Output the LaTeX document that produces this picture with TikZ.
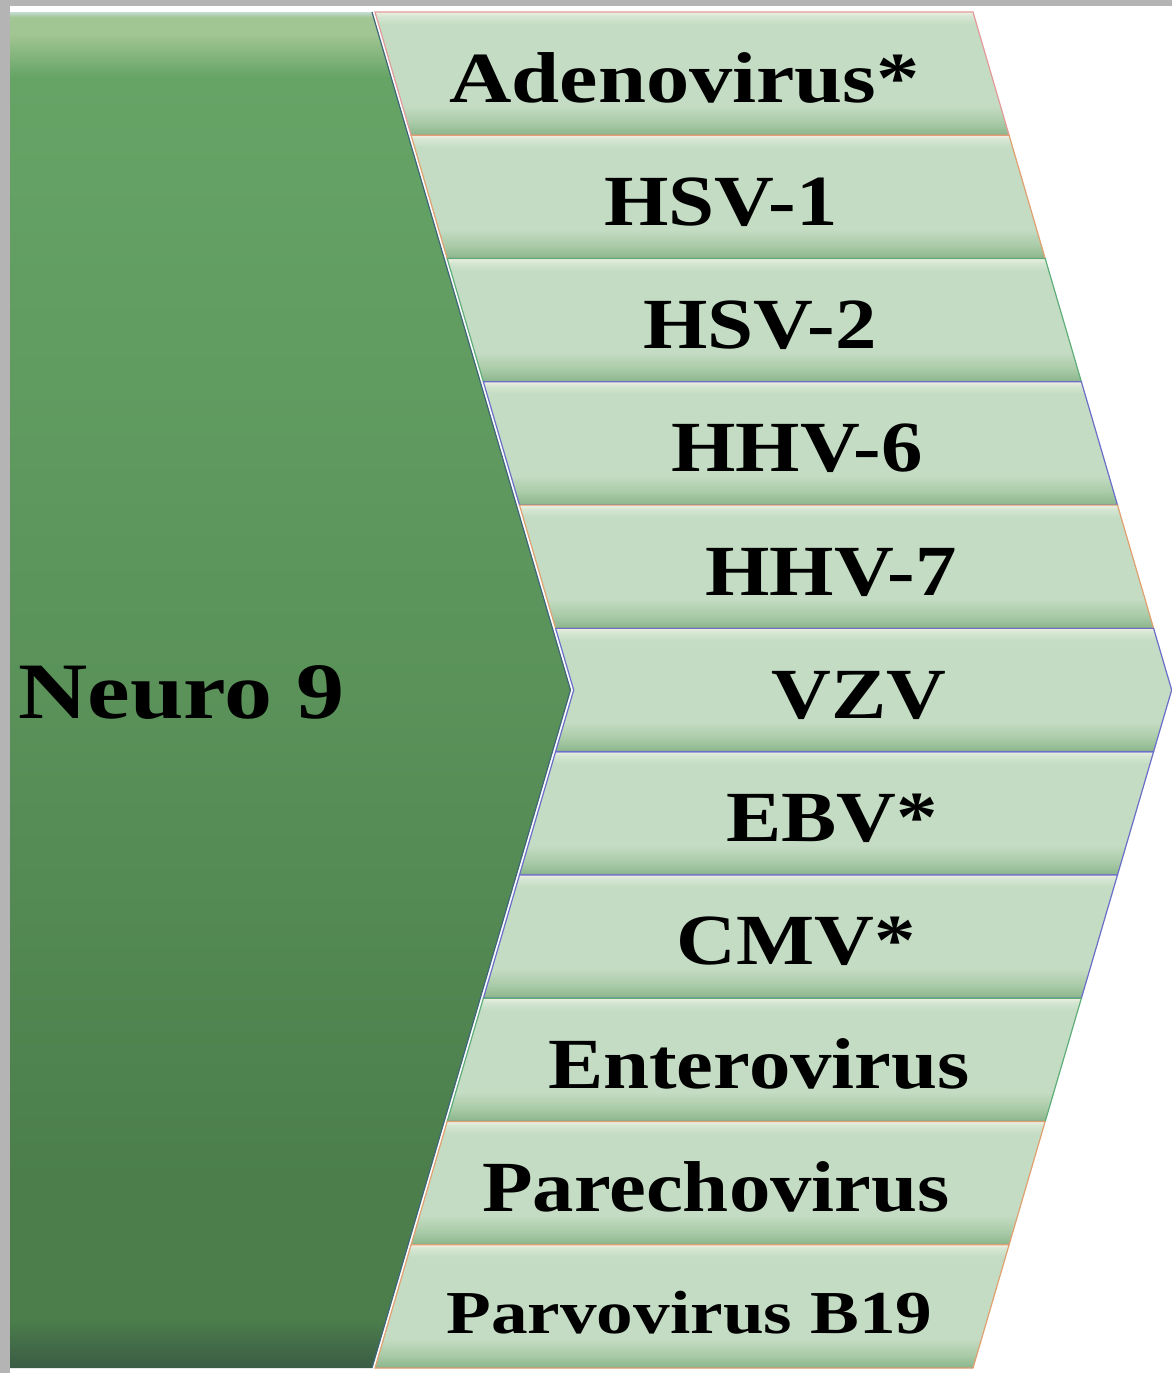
\documentclass[tikz,border=0pt]{standalone}
\usepackage{fontspec}
\setmainfont{Liberation Serif}
\newfontfamily\lab{Liberation Serif}[FakeStretch=1.15]
\newfontfamily\labw{Liberation Serif}[FakeStretch=1.2]
\definecolor{graybd}{HTML}{B4B4B4}
\definecolor{btop}{HTML}{F0EFE2}
\definecolor{bhi}{HTML}{D6E7D3}
\definecolor{bmid}{HTML}{C4DCC3}
\definecolor{bbot2}{HTML}{A8CAA6}
\definecolor{bbot}{HTML}{8FB890}
\definecolor{bdark}{HTML}{74918A}
\definecolor{gtop}{HTML}{C6DCD4}
\definecolor{glight}{HTML}{A2C693}
\definecolor{gup}{HTML}{66A466}
\definecolor{gmid}{HTML}{5A925A}
\definecolor{glow}{HTML}{4B7E4B}
\definecolor{gbot}{HTML}{3B5B45}
\definecolor{gedge}{HTML}{3F6678}
\definecolor{epink}{HTML}{E39A9A}
\definecolor{eorange}{HTML}{E0A070}
\definecolor{egreen}{HTML}{5FAE7A}
\definecolor{eblue}{HTML}{6A6EC8}
\pgfdeclareverticalshading{bandsh}{100bp}{color(0bp)=(bdark); color(25bp)=(bdark); color(25.8bp)=(bbot); color(30bp)=(bbot2); color(37bp)=(bmid); color(70bp)=(bmid); color(73.5bp)=(bhi); color(75bp)=(btop); color(100bp)=(btop)}
\pgfdeclareverticalshading{greensh}{100bp}{color(0bp)=(gbot); color(25bp)=(gbot); color(26.8bp)=(glow); color(32bp)=(glow); color(50bp)=(gmid); color(72.6bp)=(gup); color(74.2bp)=(glight); color(74.8bp)=(glight); color(75bp)=(gtop); color(100bp)=(gtop)}
\begin{document}
\begin{tikzpicture}[x=0.5pt,y=-0.5pt,
  lbl/.style={font=\lab\bfseries\fontsize{36}{40}\selectfont, anchor=base, inner sep=0pt, text=black},
  bandshape/.style={shading=bandsh, draw=#1, line width=0.6pt}]
\useasboundingbox (0,0) rectangle (1172,1373);
\fill[white] (0,0) rectangle (1172,1373);
\fill[graybd] (0,0) rectangle (1172,6);
\fill[graybd] (0,0) rectangle (10,1373);
% green chevron
\shade[shading=greensh] (10,12) -- (372,12) -- (570.5,690) -- (372,1368) -- (10,1368) -- cycle;
\draw[white, line width=1.4pt] (373.5,12) -- (572,690) -- (373.5,1368);
\draw[gedge, line width=0.6pt] (372,12) -- (570.5,690) -- (372,1368);
% bands
\foreach \yt/\yb/\xt/\xb/\c in {12/135.27/375/411.1/epink, 135.27/258.55/411.1/447.2/eorange, 258.55/381.82/447.2/483.4/egreen, 381.82/505.09/483.4/519.5/eblue, 505.09/628.36/519.5/555.6/eorange, 751.64/874.91/555.6/519.5/eblue, 874.91/998.18/519.5/483.4/eblue, 998.18/1121.45/483.4/447.2/egreen, 1121.45/1244.73/447.2/411.1/eorange, 1244.73/1368/411.1/375/eorange}{
  \shade[bandshape=\c] (\xt,\yt) -- ({\xt+598},\yt) -- ({\xb+598},\yb) -- (\xb,\yb) -- cycle;
}
\shade[bandshape=eblue] (555.6,628.36) -- (1153.6,628.36) -- (1171.7,690) -- (1153.6,751.64) -- (555.6,751.64) -- (573.7,690) -- cycle;
% labels
\node[lbl] (neuro) at (181.5,718) {\labw\fontsize{40}{44}\selectfont Neuro 9};
\node[lbl] (t1) at (684.5,102) {\labw Adenovirus*};
\node[lbl] (t2) at (721,225.3) {HSV-1};
\node[lbl] (t3) at (760,348.5) {HSV-2};
\node[lbl] (t4) at (797,471.8) {HHV-6};
\node[lbl] (t5) at (831,595.1) {HHV-7};
\node[lbl] (t6) at (859,718.4) {VZV};
\node[lbl] (t7) at (832,841.6) {EBV*};
\node[lbl] (t8) at (796,964.9) {CMV*};
\node[lbl] (t9) at (759,1088.2) {Enterovirus};
\node[lbl] (t10) at (716,1211.5) {Parechovirus};
\node[lbl] (t11) at (689.5,1333) {\labw\fontsize{30.5}{34}\selectfont Parvovirus B19};
\end{tikzpicture}
\end{document}
